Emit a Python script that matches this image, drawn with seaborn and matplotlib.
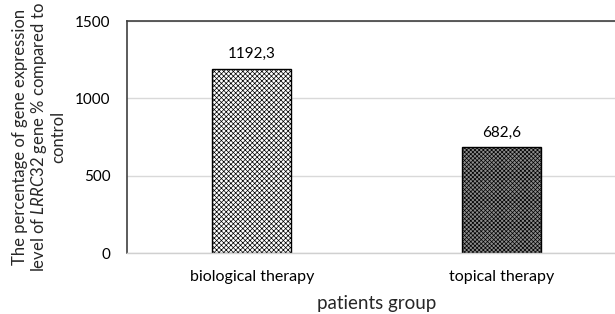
import matplotlib
matplotlib.use("Agg")
import matplotlib.pyplot as plt
import seaborn as sns
import pandas as pd

# data
groups = ["biological therapy", "topical therapy"]
values = [1192.3, 682.6]
value_labels = ["1192,3", "682,6"]

sns.set_theme(style="white")
plt.rcParams["font.family"] = ["Lato", "DejaVu Sans"]
plt.rcParams["mathtext.fontset"] = "custom"
plt.rcParams["mathtext.it"] = "Lato:italic"
plt.rcParams["mathtext.rm"] = "Lato"
plt.rcParams["hatch.linewidth"] = 0.5

df = pd.DataFrame({"group": groups, "value": values})

fig = plt.figure(figsize=(6.15, 3.14), dpi=100)
ax = fig.add_axes([0.2065, 0.194, 0.812, 0.739])

sns.barplot(data=df, x="group", y="value", ax=ax, width=0.317,
            color="white", edgecolor="black", linewidth=1.0)

# fills / patterns
styles = [("white", "#8a8a8a", "xxxxxxx"), ("#8c8c8c", "#1a1a1a", "xxxxxxxx")]
for patch, (fc, hc, hatch) in zip(ax.patches, styles):
    patch.set_facecolor(fc)
    patch.set_hatch(hatch)
    patch._hatch_color = matplotlib.colors.to_rgba(hc)
    patch.set_edgecolor("black")

for i, (v, lab) in enumerate(zip(values, value_labels)):
    ax.text(i, v + 50, lab, ha="center", va="bottom", fontsize=11, color="black")

ax.set_ylim(0, 1500)
ax.set_xlim(-0.5, 1.5)
ax.set_yticks([0, 500, 1000, 1500])
ax.yaxis.grid(True, color="#d9d9d9", linewidth=1.0)
ax.set_axisbelow(True)

for side in ["left", "top", "right"]:
    ax.spines[side].set_color("#404040")
    ax.spines[side].set_linewidth(1.2)
ax.spines["bottom"].set_color("#d0d0d0")
ax.spines["bottom"].set_linewidth(1.0)

ax.tick_params(axis="both", length=0, labelsize=11, colors="black")
ax.tick_params(axis="x", labelsize=11.5, pad=12)
ax.tick_params(axis="y", pad=12)

ax.set_xlabel("patients group", fontsize=13.5, labelpad=8)
ax.set_ylabel("The percentage of gene expression\n"
              "level of $\\it{LRRC32}$ gene % compared to\n"
              "control", fontsize=12, linespacing=1.1, labelpad=6)

fig.savefig("out.png", dpi=100)
